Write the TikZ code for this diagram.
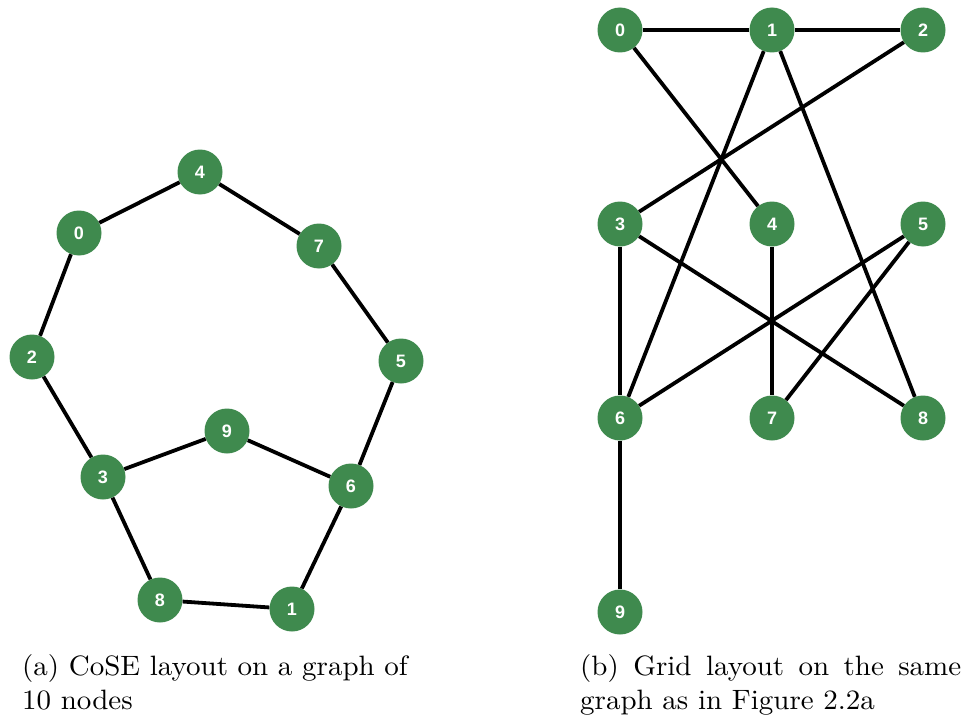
\documentclass[tikz,border=0pt]{standalone}
\usepackage{graphicx}
\usepackage{fontspec}
\newfontfamily\labelfont{Liberation Sans}
\usepackage{tikz}
\usetikzlibrary{positioning}

\definecolor{nodegreen}{RGB}{63,138,78}
% caption lines: 10pt text blown up
\newcommand{\capline}[1]{\scalebox{2.9}[2.8]{\fontsize{10}{12}\selectfont #1}}

\begin{document}
\begin{tikzpicture}[x=1pt,y=-1pt,
  vertex/.style={circle,fill=nodegreen,inner sep=0pt,minimum size=45pt,text=white,font=\labelfont\fontsize{18}{18}\selectfont\bfseries},
  edge/.style={line width=3.8pt,black},
  caption/.style={anchor=base west,inner sep=0pt}]
  \useasboundingbox (0,0) rectangle (964,717);
  % (a) CoSE layout
  \node[vertex] (a4) at (200,172) {4};
  \node[vertex] (a0) at (79,233) {0};
  \node[vertex] (a7) at (319,246) {7};
  \node[vertex] (a2) at (32,357) {2};
  \node[vertex] (a5) at (401,361) {5};
  \node[vertex] (a9) at (227,431) {9};
  \node[vertex] (a3) at (103,477) {3};
  \node[vertex] (a6) at (351,486) {6};
  \node[vertex] (a8) at (160,600) {8};
  \node[vertex] (a1) at (292,609) {1};
  \draw[edge] (a0) -- (a4);
  \draw[edge] (a4) -- (a7);
  \draw[edge] (a7) -- (a5);
  \draw[edge] (a5) -- (a6);
  \draw[edge] (a0) -- (a2);
  \draw[edge] (a2) -- (a3);
  \draw[edge] (a3) -- (a9);
  \draw[edge] (a9) -- (a6);
  \draw[edge] (a3) -- (a8);
  \draw[edge] (a8) -- (a1);
  \draw[edge] (a1) -- (a6);
  % (b) grid layout
  \node[vertex] (b0) at (620,30) {0};
  \node[vertex] (b1) at (772,30) {1};
  \node[vertex] (b2) at (923,30) {2};
  \node[vertex] (b3) at (620,224) {3};
  \node[vertex] (b4) at (772,224) {4};
  \node[vertex] (b5) at (923,224) {5};
  \node[vertex] (b6) at (620,418) {6};
  \node[vertex] (b7) at (772,418) {7};
  \node[vertex] (b8) at (923,418) {8};
  \node[vertex] (b9) at (620,612) {9};
  \draw[edge] (b0) -- (b1);
  \draw[edge] (b1) -- (b2);
  \draw[edge] (b0) -- (b4);
  \draw[edge] (b2) -- (b3);
  \draw[edge] (b1) -- (b6);
  \draw[edge] (b1) -- (b8);
  \draw[edge] (b3) -- (b6);
  \draw[edge] (b3) -- (b8);
  \draw[edge] (b4) -- (b7);
  \draw[edge] (b5) -- (b6);
  \draw[edge] (b5) -- (b7);
  \draw[edge] (b6) -- (b9);
  % captions
  \node[caption] (capa) at (22,675) {\capline{(a) CoSE layout on a graph of}};
  \node[caption] (capa2) at (22,709) {\capline{10 nodes}};
  \node[caption] (capb) at (580,675) {\capline{\makebox[131.4pt][s]{(b) Grid layout on the same}}};
  \node[caption] (capb2) at (580,709) {\capline{graph as in Figure 2.2a}};
\end{tikzpicture}
\end{document}
